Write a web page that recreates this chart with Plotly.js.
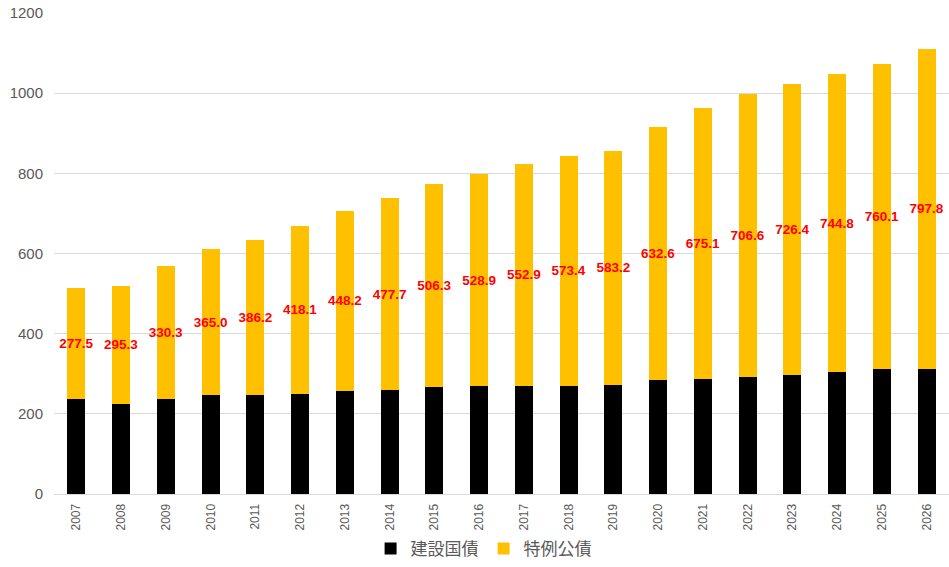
<!DOCTYPE html>
<html>
<head>
<meta charset="utf-8">
<script src="https://cdn.plot.ly/plotly-3.0.1.min.js"></script>
<style>
  html, body { margin: 0; padding: 0; background: #fff; }
  #chart { width: 949px; height: 567px; }
</style>
</head>
<body>
<div id="chart"></div>
<script>
// 年度
var years = ['2007', '2008', '2009', '2010', '2011', '2012', '2013', '2014', '2015', '2016',
             '2017', '2018', '2019', '2020', '2021', '2022', '2023', '2024', '2025', '2026'];

// 建設国債
var kensetsu = [236, 224.5, 238, 246.5, 248, 250, 258, 260, 266, 268.5,
                270, 270.4, 273, 284, 288, 292.4, 297, 303.7, 311.5, 312.5];

// 特例公債 (labelled values)
var tokurei = [277.5, 295.3, 330.3, 365.0, 386.2, 418.1, 448.2, 477.7, 506.3, 528.9,
               552.9, 573.4, 583.2, 632.6, 675.1, 706.6, 726.4, 744.8, 760.1, 797.8];

var labelFont = { family: 'Liberation Sans, Arial, sans-serif', size: 13.5, color: '#ff0000', weight: 'bold' };

var traces = [
  {
    type: 'bar',
    name: '建設国債',
    x: years,
    y: kensetsu,
    marker: { color: '#000000' },
    hoverinfo: 'none'
  },
  {
    type: 'bar',
    name: '特例公債',
    x: years,
    y: tokurei,
    marker: { color: '#ffc000' },
    text: tokurei.map(function (v) { return v.toFixed(1); }),
    textposition: 'inside',
    insidetextanchor: 'middle',
    textangle: 0,
    constraintext: 'none',
    insidetextfont: labelFont,
    cliponaxis: false,
    hoverinfo: 'none'
  }
];

var layout = {
  width: 949,
  height: 567,
  margin: { l: 54, r: 0, t: 13, b: 73 },
  barmode: 'stack',
  bargap: 0.6,
  paper_bgcolor: '#ffffff',
  plot_bgcolor: '#ffffff',
  font: { family: 'Liberation Sans, Arial, sans-serif', color: '#595959' },
  uniformtext: { mode: 'show', minsize: 13.5 },
  xaxis: {
    type: 'category',
    tickangle: -90,
    tickfont: { size: 12, color: '#595959' },
    showline: true,
    linecolor: '#d9d9d9',
    linewidth: 1,
    ticks: '',
    ticklabelstandoff: 4,
    showgrid: false
  },
  yaxis: {
    range: [0, 1200],
    dtick: 200,
    tickfont: { size: 15, color: '#595959' },
    gridcolor: '#d9d9d9',
    gridwidth: 1,
    zeroline: false,
    ticks: '',
    ticklabelstandoff: 10
  },
  showlegend: true,
  legend: {
    orientation: 'h',
    x: 0.48,
    xanchor: 'center',
    y: -0.114,
    yanchor: 'middle',
    font: { size: 17, color: '#595959', family: 'Noto Sans CJK JP, sans-serif' },
    traceorder: 'normal',
    itemwidth: 30
  }
};

Plotly.newPlot('chart', traces, layout, { displayModeBar: false, staticPlot: true });
</script>
</body>
</html>
